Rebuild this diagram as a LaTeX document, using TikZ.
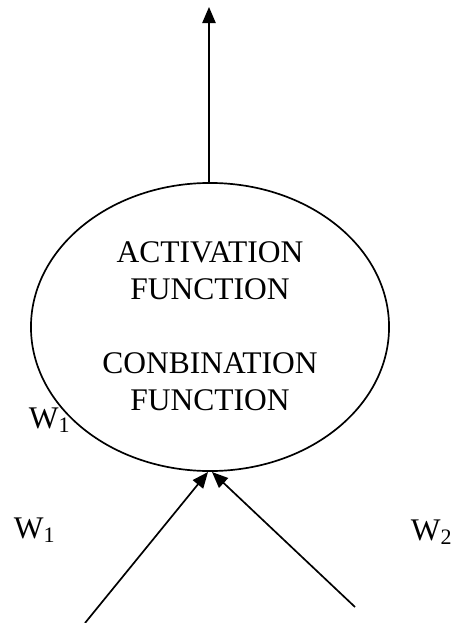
\documentclass[tikz,border=0pt]{standalone}
\usepackage{fontspec}
\setmainfont{Liberation Serif}
\usetikzlibrary{arrows.meta,shapes.geometric}

\begin{document}
\begin{tikzpicture}[x=0.025cm,y=-0.025cm,line width=1.2pt,>={Triangle[length=4mm,width=3.3mm]},
  lbl/.style={font=\fontsize{22.4}{25.8}\selectfont,inner sep=0pt}]
  \useasboundingbox (0,0) rectangle (451,623);
  % neuron
  \node[draw,ellipse,minimum width=8.95cm,minimum height=7.2cm,inner sep=0pt] (neuron) at (210,327){};
  \node[lbl,anchor=base] (act) at (210,262){ACTIVATION};
  \node[lbl,anchor=base] (actf) at (210,299){FUNCTION};
  \node[lbl,anchor=base] (comb) at (210,373){CONBINATION};
  \node[lbl,anchor=base] (combf) at (210,410){FUNCTION};
  % weights
  \node[lbl,anchor=base west] (wa) at (28,428){W\textsubscript{1}};
  \node[lbl,anchor=base west] (wb) at (13,538){W\textsubscript{1}};
  \node[lbl,anchor=base west] (wc) at (410,540){W\textsubscript{2}};
  % output and inputs
  \coordinate (out) at (209,7);
  \coordinate (inA) at (85,623);
  \coordinate (inB) at (355,607);
  \coordinate (tipA) at (208,472);
  \coordinate (tipB) at (212,472);
  \draw[->] (neuron.north -| out) -- (out);
  \draw[->] (inA) -- (tipA);
  \draw[->] (inB) -- (tipB);
\end{tikzpicture}
\end{document}
